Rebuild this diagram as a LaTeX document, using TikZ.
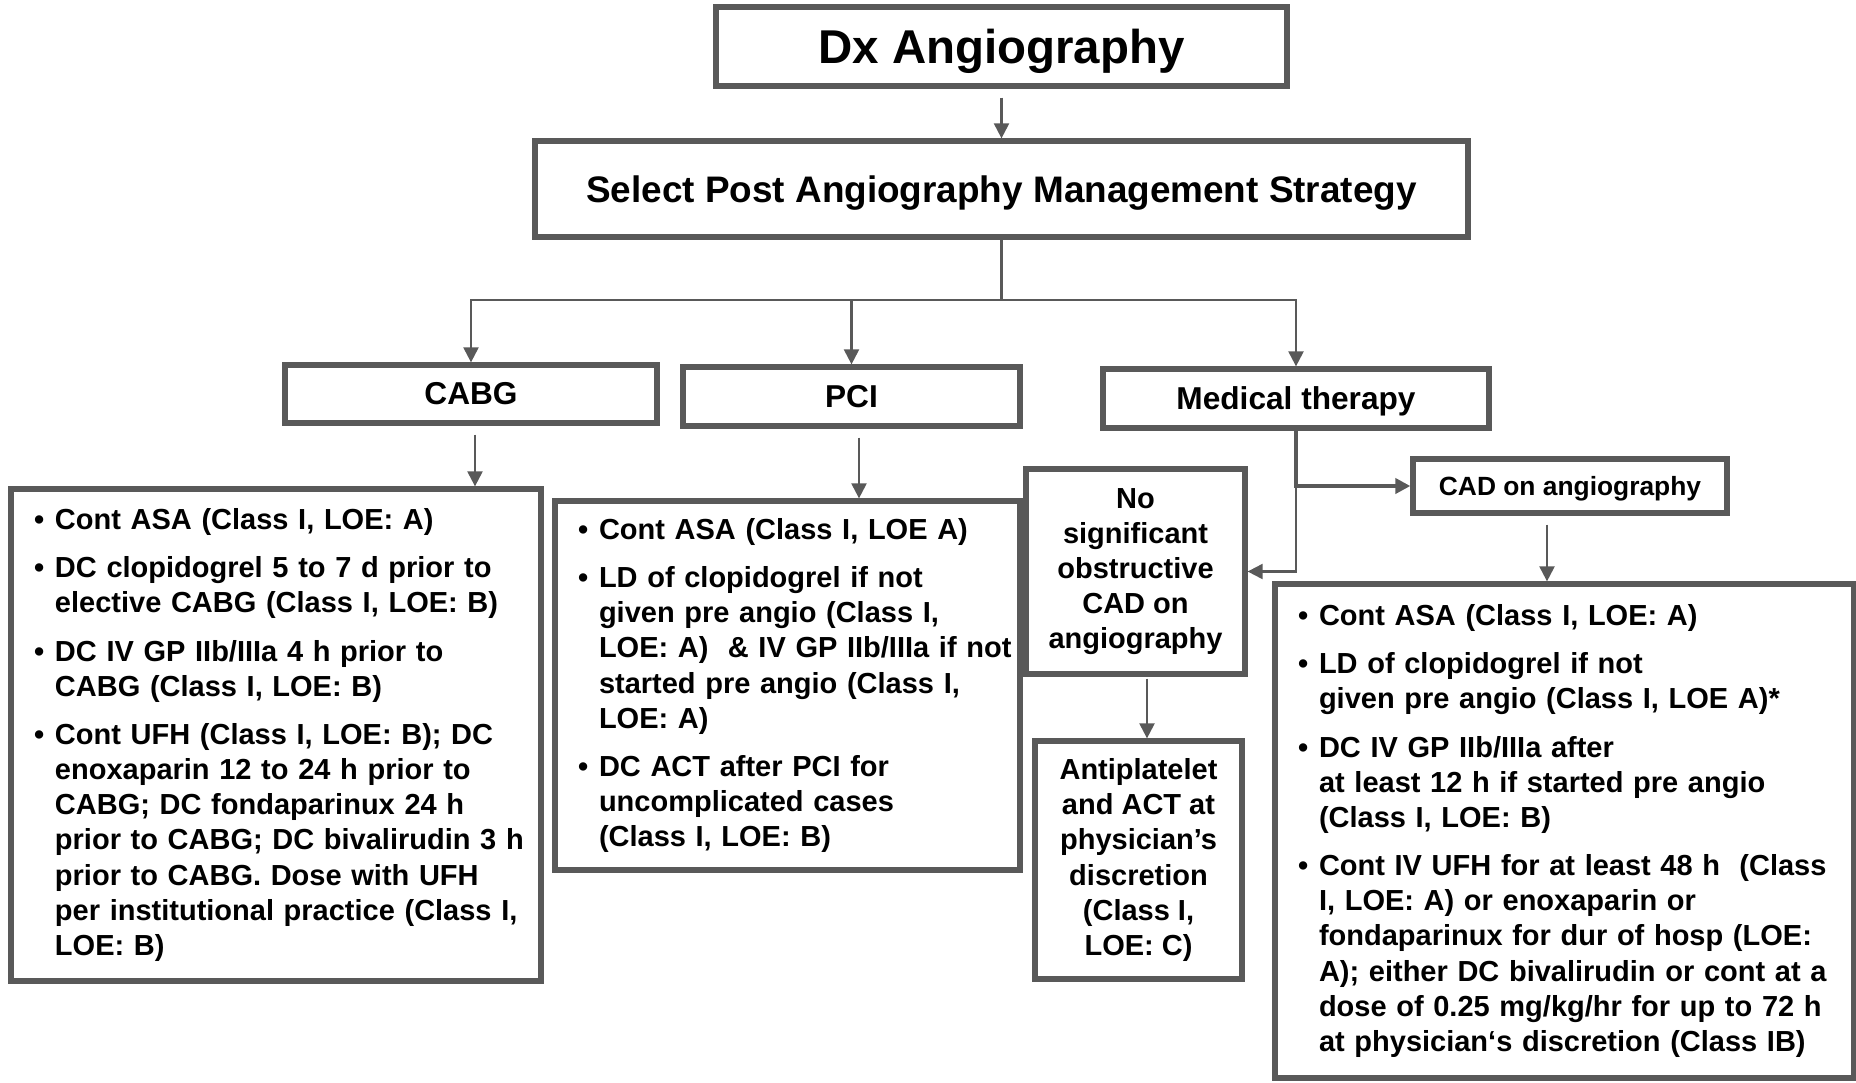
\documentclass[tikz,border=0pt]{standalone}
\usepackage{fontspec}
\setmainfont{Liberation Sans}
\usetikzlibrary{arrows.meta}

\definecolor{boxgray}{RGB}{89,89,89}
\newcommand{\listsetup}{\raggedright\leftskip=0.78cm\relax}
\newcommand{\bul}{\noindent\llap{\makebox[0.42cm][l]{\textbullet}}}

\begin{document}
\begin{tikzpicture}[
            box/.style={
                draw=boxgray, line width=3pt, fill=white, inner sep=0pt,
                font=\bfseries
            },
            head/.style={
                box, text depth=0pt
            },
            body/.style={
                box, font=\fontsize{16.5}{20}\selectfont\bfseries
            },
            listbox/.style={
                body, inner xsep=0.1cm
            },
            arr/.style={
                draw=boxgray, line width=1.25pt,
                -{Triangle[length=0.30cm,width=0.30cm]}
            }
        ]
        \useasboundingbox (0,0) rectangle (37.12,-21.64);

        % top of the chart
        \node[head, minimum width=11.42cm, minimum height=1.58cm,
            font=\fontsize{27}{32}\selectfont\bfseries] (dx) at (20.03,-0.93) {Dx Angiography};
        \node[head, minimum width=18.66cm, minimum height=1.92cm,
            font=\fontsize{21}{25}\selectfont\bfseries] (sel) at (20.03,-3.78) {Select Post Angiography Management Strategy};
        \coordinate (split) at (20.03,-6.00);

        % the three strategies
        \node[box, minimum width=7.44cm, minimum height=1.16cm,
            font=\fontsize{18}{22}\selectfont\bfseries] (cabg) at (9.42,-7.88) {CABG};
        \node[box, minimum width=6.74cm, minimum height=1.18cm,
            font=\fontsize{18}{22}\selectfont\bfseries] (pci) at (17.03,-7.93) {PCI};
        \node[head, minimum width=7.72cm, minimum height=1.18cm,
            font=\fontsize{18}{22}\selectfont\bfseries] (med) at (25.92,-7.97) {Medical therapy};

        \node[listbox, text width=10.40cm, minimum height=9.84cm] (cabglist) at (5.52,-14.70) {\listsetup
            \bul Cont ASA (Class I, LOE: A)\\[7.4pt]
            \bul DC clopidogrel 5 to 7 d prior to\\
            elective CABG (Class I, LOE: B)\\[7.4pt]
            \bul DC IV GP IIb/IIIa 4 h prior to\\
            CABG (Class I, LOE: B)\\[7.4pt]
            \bul Cont UFH (Class I, LOE: B); DC\\
            enoxaparin 12 to 24 h prior to\\
            CABG; DC fondaparinux 24 h\\
            prior to CABG; DC bivalirudin 3 h\\
            prior to CABG. Dose with UFH\\
            per institutional practice (Class I,\\
            LOE: B)\par};

        \node[listbox, text width=9.10cm, minimum height=7.38cm] (pcilist) at (15.75,-13.71) {\listsetup
            \bul Cont ASA (Class I, LOE A)\\[7.4pt]
            \bul LD of clopidogrel if not\\
            given pre angio (Class I,\\
            LOE: A)\ \ \& IV GP IIb/IIIa if not\\
            started pre angio (Class I,\\
            LOE: A)\\[7.4pt]
            \bul DC ACT after PCI for\\
            uncomplicated cases\\
            (Class I, LOE: B)\par};

        % medical therapy branch
        \node[body, minimum width=4.38cm, minimum height=4.10cm, align=center] (nosig) at (22.71,-11.43)
            {No\\significant\\obstructive\\CAD on\\angiography};
        \node[body, minimum width=4.14cm, minimum height=4.76cm, align=center] (antip) at (22.77,-17.20)
            {Antiplatelet\\and ACT at\\physician’s\\discretion\\(Class I,\\LOE: C)};
        \node[head, minimum width=6.28cm, minimum height=1.08cm,
            font=\fontsize{15}{18}\selectfont\bfseries] (cad) at (31.40,-9.72) {CAD on angiography};

        \node[listbox, text width=11.38cm, minimum height=9.88cm] (medlist) at (31.29,-16.62) {\listsetup
            \bul Cont ASA (Class I, LOE: A)\\[7.4pt]
            \bul LD of clopidogrel if not\\
            given pre angio (Class I, LOE A)*\\[7.4pt]
            \bul DC IV GP IIb/IIIa after\\
            at least 12 h if started pre angio\\
            (Class I, LOE: B)\\[7.4pt]
            \bul Cont IV UFH for at least 48 h\ \ (Class\\
            I, LOE: A) or enoxaparin or\\
            fondaparinux for dur of hosp (LOE:\\
            A); either DC bivalirudin or cont at a\\
            dose of 0.25 mg/kg/hr for up to 72 h\\
            at physician‘s discretion (Class IB)\par};

        % connectors
        \draw[arr, shorten <=0.18cm] (dx.south) -- (sel.north);
        \draw[arr] (sel.south) -- (split) -| (cabg.north);
        \draw[arr] (split) -| (pci.north);
        \draw[arr] (split) -| (med.north);
        \draw[arr, shorten <=0.18cm] ([xshift=0.08cm]cabg.south) -- ([xshift=0.08cm]cabg.south |- cabglist.north);
        \draw[arr, shorten <=0.18cm] ([xshift=0.15cm]pci.south) -- ([xshift=0.15cm]pci.south |- pcilist.north);
        \draw[arr] (med.south) |- (nosig.east);
        \draw[arr, line width=2.2pt] (med.south) |- (cad.west);
        \draw[arr, shorten <=0.18cm] ([xshift=-0.46cm]cad.south) -- ([xshift=-0.46cm]cad.south |- medlist.north);
        \draw[arr, shorten <=0.04cm] ([xshift=0.23cm]nosig.south) -- ([xshift=0.23cm]nosig.south |- antip.north);
        \end{tikzpicture}
\end{document}
